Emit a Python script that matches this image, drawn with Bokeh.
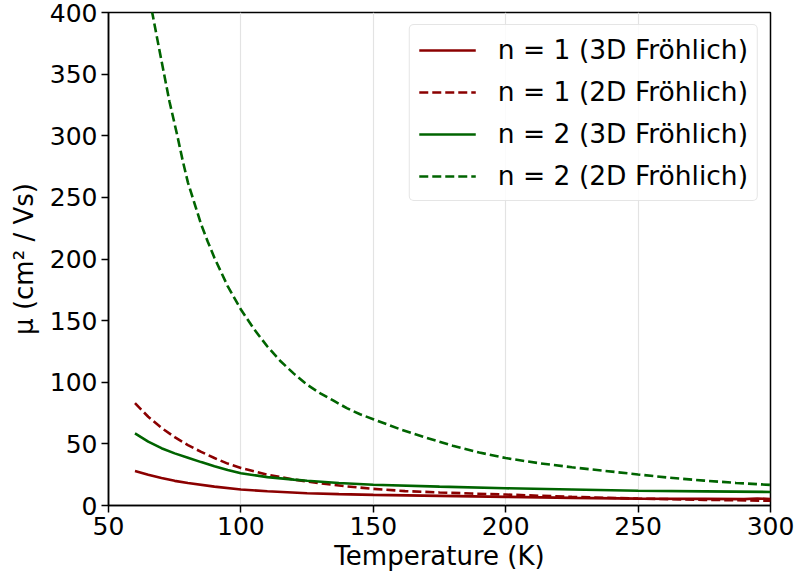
from bokeh.plotting import figure
from bokeh.models import Range1d, FixedTicker, Legend, LegendItem
from bokeh.embed import file_html
from bokeh.resources import INLINE

# Data
T_n1_3d = [60, 65, 70, 75, 80, 90, 100, 110, 125, 137, 150, 175, 200, 225, 250, 275, 290, 295, 300]
mu_n1_3d = [28, 25, 22.3, 20, 18.3, 15.3, 13, 11.6, 10, 9.2, 8.6, 7.8, 7.0, 6.2, 5.6, 5.4, 5.2, 5.7, 5.3]

T_n1_2d = [60, 65, 70, 75, 80, 85, 90, 95, 100, 110, 120, 130, 140, 150, 162, 175, 187, 200, 225, 250, 275, 300]
mu_n1_2d = [83, 72, 63, 55.5, 49, 43.5, 38.5, 34, 30.5, 25, 21, 18, 15.5, 13.5, 11.7, 10.6, 9.7, 8.9, 7, 5.6, 4.6, 3.8]

T_n2_3d = [60, 65, 70, 75, 80, 85, 90, 95, 100, 110, 120, 125, 137, 150, 175, 200, 225, 250, 275, 300]
mu_n2_3d = [58.5, 51.8, 46.5, 42.3, 38.8, 35.2, 31.9, 28.8, 26.2, 23, 21, 20.1, 18.2, 16.8, 15.3, 14, 13, 12, 11.5, 11]

T_n2_2d = [60, 62, 64, 66.5, 69, 71, 73, 76, 78, 80, 82.5, 85, 87.5, 90, 95, 100, 105, 110, 115, 120,
           125, 130, 135, 140, 145, 150, 160, 170, 180, 190, 200, 212, 225, 237, 250, 262, 275, 287, 300]
mu_n2_2d = [506, 470, 438, 400, 372, 350, 328, 300, 280, 262, 245, 228, 214, 201, 178, 159, 143, 129, 117, 107,
            98, 91, 85, 79, 74, 70, 62, 55, 48.5, 43, 38.5, 34.5, 31, 28.2, 25.2, 22.5, 20.2, 18.3, 16.7]

x_ticks = [50, 100, 150, 200, 250, 300]
y_ticks = [0, 50, 100, 150, 200, 250, 300, 350, 400]

labels = ["n = 1 (3D Fröhlich)", "n = 1 (2D Fröhlich)", "n = 2 (3D Fröhlich)", "n = 2 (2D Fröhlich)"]
RED = "#8b0000"
GREEN = "#006400"
FONT = "DejaVu Sans"

p = figure(width=798, height=580, output_backend="svg", toolbar_location=None,
           x_range=Range1d(50, 300), y_range=Range1d(0, 400))
p.min_border_left = 108
p.min_border_right = 28
p.min_border_top = 12
p.min_border_bottom = 75
p.outline_line_color = "black"
p.outline_line_width = 1.5
p.background_fill_color = "white"
p.border_fill_color = "white"

for ax, ticks in ((p.xaxis[0], x_ticks), (p.yaxis[0], y_ticks)):
    ax.ticker = FixedTicker(ticks=ticks)
    ax.major_label_text_font = FONT
    ax.major_label_text_font_size = "25px"
    ax.major_label_text_color = "black"
    ax.axis_label_text_font = FONT
    ax.axis_label_text_font_size = "26px"
    ax.axis_label_text_font_style = "normal"
    ax.axis_label_text_color = "black"
    ax.axis_line_color = "black"
    ax.axis_line_width = 1.5
    ax.major_tick_line_color = "black"
    ax.major_tick_line_width = 1.5
    ax.major_tick_in = 0
    ax.major_tick_out = 7
    ax.minor_tick_line_color = None
    ax.major_label_standoff = 4

p.xaxis.axis_label = "Temperature (K)"
p.yaxis.axis_label = "μ (cm² / Vs)"
p.xaxis.axis_label_standoff = 3
p.yaxis.axis_label_standoff = 8

p.xgrid.ticker = FixedTicker(ticks=x_ticks)
p.xgrid.grid_line_color = "#e3e3e3"
p.xgrid.grid_line_width = 1.2
p.ygrid.grid_line_color = None

r1 = p.line(T_n1_3d, mu_n1_3d, line_color=RED, line_width=2.6)
r2 = p.line(T_n1_2d, mu_n1_2d, line_color=RED, line_width=2.6, line_dash="9 4")
r3 = p.line(T_n2_3d, mu_n2_3d, line_color=GREEN, line_width=2.6)
r4 = p.line(T_n2_2d, mu_n2_2d, line_color=GREEN, line_width=2.6, line_dash="9 4")

legend = Legend(items=[LegendItem(label=l, renderers=[r]) for l, r in zip(labels, [r1, r2, r3, r4])],
                location="top_right")
legend.label_text_font = FONT
legend.label_text_font_size = "26.5px"
legend.label_text_color = "black"
legend.glyph_width = 57
legend.glyph_height = 30
legend.label_standoff = 22
legend.spacing = 11
legend.padding = 9
legend.margin = 12
legend.border_line_color = "#cccccc"
legend.border_line_width = 1
legend.border_radius = 5
legend.background_fill_alpha = 0.85
p.add_layout(legend)

open("out.html", "w").write(file_html(p, INLINE))
